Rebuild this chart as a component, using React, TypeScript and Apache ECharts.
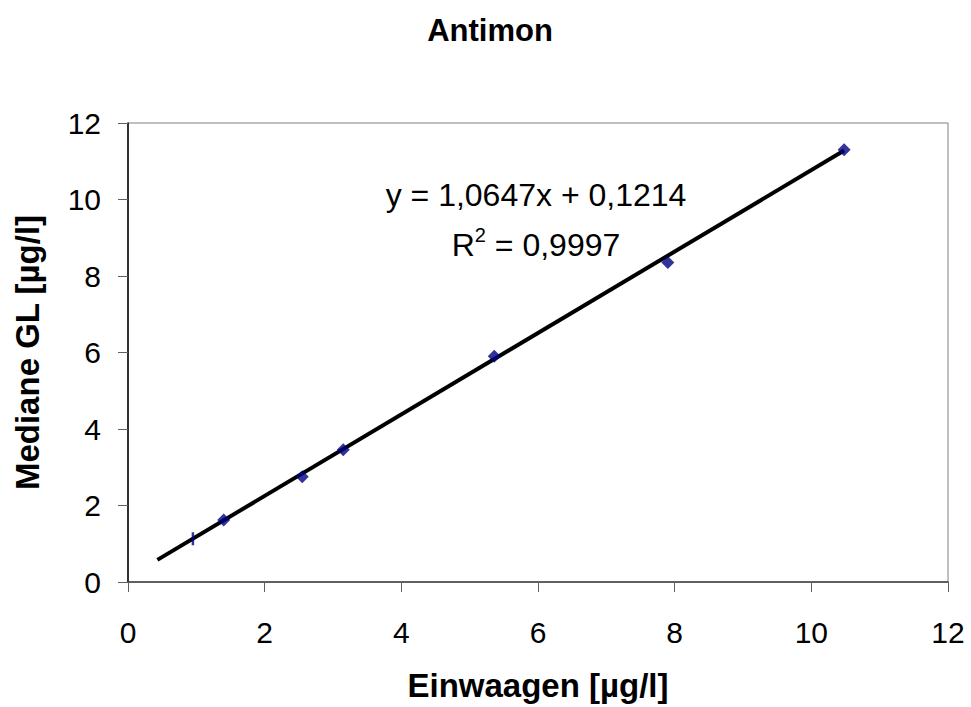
import React, { useEffect, useRef } from "react";
import * as echarts from "echarts";

// Measured values (Einwaagen vs. Mediane GL), µg/l
const einwaagen = [1.4, 2.55, 3.15, 5.36, 7.9, 10.48];
const mediane = [1.62, 2.75, 3.46, 5.9, 8.35, 11.3];
// Single low-level value drawn with a dash marker
const dashPoint = [0.95, 1.13];

// Linear regression as stated in the chart
const slope = 1.0647;
const intercept = 0.1214;
const rSquared = "0,9997";
const trendRange = [0.43, 10.48];

const axisTicks = [0, 2, 4, 6, 8, 10, 12];

const FONT = "Liberation Sans, Arial, sans-serif";

export default function App() {
  const ref = useRef<HTMLDivElement>(null);

  useEffect(() => {
    if (!ref.current) return;
    const chart = echarts.init(ref.current, null, { renderer: "svg" });

    const trend = trendRange.map((x) => [x, slope * x + intercept]);
    const fmt = (v: number) => v.toFixed(4).replace(".", ",");

    chart.setOption({
      animation: false,
      backgroundColor: "#ffffff",
      textStyle: { fontFamily: FONT },
      title: {
        text: "Antimon",
        left: 485,
        textAlign: "center",
        top: 10,
        textStyle: { fontFamily: FONT, fontSize: 31, fontWeight: "bold", color: "#000" },
      },
      grid: {
        left: 128,
        top: 123,
        width: 820,
        height: 461,
        show: true,
        borderColor: "#808080",
        borderWidth: 1,
      },
      xAxis: {
        type: "value",
        min: axisTicks[0],
        max: axisTicks[axisTicks.length - 1],
        interval: 2,
        name: "Einwaagen [µg/l]",
        nameLocation: "middle",
        nameGap: 87,
        nameTextStyle: { fontFamily: FONT, fontSize: 33, fontWeight: "bold", color: "#000" },
        axisLine: { show: true, lineStyle: { color: "#404040", width: 1.5 } },
        axisTick: { show: true, length: 10, lineStyle: { color: "#606060", width: 1 } },
        axisLabel: { fontFamily: FONT, fontSize: 30, color: "#000", margin: 35 },
        splitLine: { show: false },
      },
      yAxis: {
        type: "value",
        min: axisTicks[0],
        max: axisTicks[axisTicks.length - 1],
        interval: 2,
        name: "Mediane GL [µg/l]",
        nameLocation: "middle",
        nameGap: 84,
        nameTextStyle: { fontFamily: FONT, fontSize: 33, fontWeight: "bold", color: "#000" },
        axisLine: { show: true, lineStyle: { color: "#000", width: 1.5 } },
        axisTick: { show: true, length: 10, lineStyle: { color: "#606060", width: 1 } },
        axisLabel: { fontFamily: FONT, fontSize: 30, color: "#000", margin: 27 },
        splitLine: { show: false },
      },
      graphic: [
        {
          type: "text",
          x: 536,
          y: 195,
          style: {
            text: `y = ${fmt(slope)}x + ${fmt(intercept)}`,
            font: `32px ${FONT}`,
            fill: "#000",
            textAlign: "center",
            textVerticalAlign: "middle",
          },
        },
        {
          type: "text",
          x: 536,
          y: 243,
          style: {
            text: `{a|R}{s|2}{a| = ${rSquared}}`,
            textAlign: "center",
            textVerticalAlign: "middle",
            rich: {
              a: { fontFamily: FONT, fontSize: 32, fill: "#000", verticalAlign: "bottom" },
              s: { fontFamily: FONT, fontSize: 20, fill: "#000", verticalAlign: "top", padding: [0, 0, 16, 0] },
            },
          },
        },
      ],
      series: [
        {
          name: "Trend",
          type: "line",
          data: trend,
          showSymbol: false,
          symbol: "none",
          lineStyle: { color: "#000", width: 4 },
          z: 2,
        },
        {
          name: "Mediane",
          type: "scatter",
          data: einwaagen.map((x, i) => [x, mediane[i]]),
          symbol: "diamond",
          symbolSize: 13,
          itemStyle: { color: "#000080" },
          z: 3,
        },
        {
          name: "Einzelwert",
          type: "scatter",
          data: [dashPoint],
          symbol: "rect",
          symbolSize: [2.5, 13],
          itemStyle: { color: "#000080" },
          z: 3,
        },
      ],
    });

    return () => chart.dispose();
  }, []);

  return (
    <div
      ref={ref}
      style={{ position: "fixed", left: 0, top: 0, width: 971, height: 707, background: "#fff" }}
    />
  );
}
